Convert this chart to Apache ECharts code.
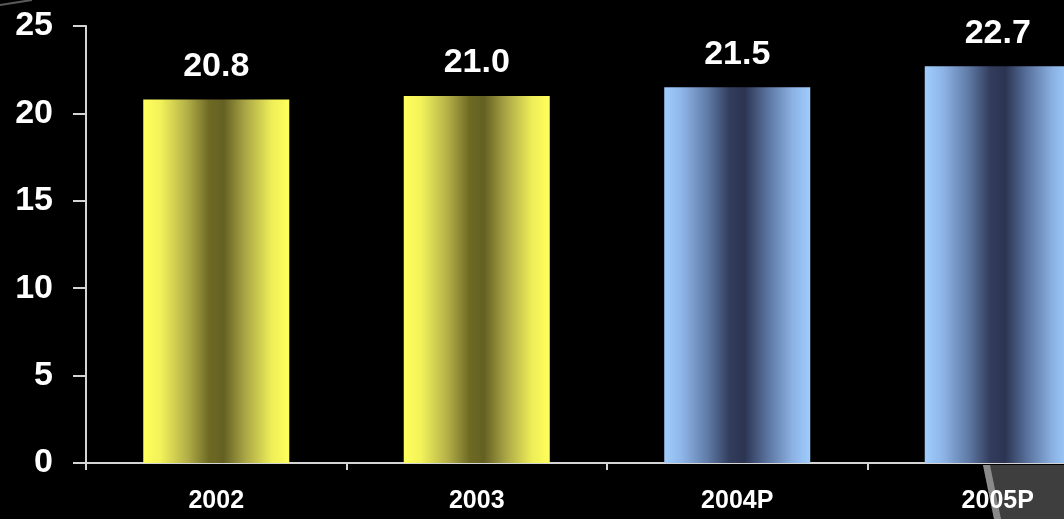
<!DOCTYPE html>
<html>
<head>
<meta charset="utf-8">
<title>Annual values 2002–2005P</title>
<script src="https://cdn.jsdelivr.net/npm/echarts@6/dist/echarts.min.js"></script>
<style>
  html, body { margin: 0; padding: 0; background: #000; }
  #chart { width: 1064px; height: 519px; }
</style>
</head>
<body>
<div id="chart"></div>
<script>
// Years on the category axis (P = projected)
const categories = ['2002', '2003', '2004P', '2005P'];
// Value for each year
const values = [20.8, 21.0, 21.5, 22.7];
// Which years are projections (drawn in blue instead of yellow)
const projected = [false, false, true, true];
// Value axis range
const yMin = 0, yMax = 25, yStep = 5;

const FONT = '"Liberation Sans", Arial, sans-serif';
const AXIS_COLOR = '#d4d4d4';

// Cylinder-like shading: bright edges, dark centre
function shade(stops) {
  return new echarts.graphic.LinearGradient(0, 0, 1, 0, stops.map(([o, c]) => ({ offset: o, color: c })));
}
const yellowFill = shade([
  [0.00, '#ffff5c'], [0.12, '#f2f25a'], [0.30, '#b4b048'],
  [0.45, '#6e6a24'], [0.55, '#646022'], [0.70, '#aaa646'],
  [0.88, '#eeee58'], [1.00, '#ffff5c']
]);
const blueFill = shade([
  [0.00, '#9fcdfd'], [0.12, '#8fb6e8'], [0.30, '#5f7aa6'],
  [0.45, '#323c5c'], [0.55, '#2c3452'], [0.70, '#58719c'],
  [0.88, '#8cb2e4'], [1.00, '#9fcdfd']
]);

const chart = echarts.init(document.getElementById('chart'), null, { renderer: 'canvas' });

chart.setOption({
  backgroundColor: '#000000',
  animation: false,
  // the last category runs past the right edge of the canvas
  grid: { left: 86, top: 26, width: 1042, height: 437, containLabel: false, outerBoundsMode: 'none' },
  xAxis: {
    type: 'category',
    data: categories,
    axisLine: { show: true, lineStyle: { color: AXIS_COLOR, width: 2 } },
    axisTick: { show: true, alignWithLabel: false, length: 7, lineStyle: { color: AXIS_COLOR, width: 2 } },
    axisLabel: { color: '#ffffff', fontFamily: FONT, fontWeight: 'bold', fontSize: 25, margin: 26 },
    splitLine: { show: false }
  },
  yAxis: {
    type: 'value',
    min: yMin, max: yMax, interval: yStep,
    axisLine: { show: true, lineStyle: { color: AXIS_COLOR, width: 2 } },
    axisTick: { show: true, inside: false, length: 13, lineStyle: { color: AXIS_COLOR, width: 2 } },
    axisLabel: { color: '#ffffff', fontFamily: FONT, fontWeight: 'bold', fontSize: 34, margin: 33 },
    splitLine: { show: false }
  },
  series: [{
    type: 'bar',
    barWidth: 146,
    data: values.map((v, i) => ({
      value: v,
      itemStyle: { color: projected[i] ? blueFill : yellowFill }
    })),
    label: {
      show: true,
      position: 'top',
      distance: 16,
      color: '#ffffff',
      fontFamily: FONT,
      fontWeight: 'bold',
      fontSize: 34,
      formatter: p => p.value.toFixed(1)
    }
  }],
  graphic: [
    // grey backdrop fragments peeking in at the corners
    {
      type: 'polygon', z: -1,
      shape: { points: [[983, 465], [1064, 465], [1064, 519], [994, 519]] },
      style: { fill: '#3e3e3e' }
    },
    {
      type: 'polygon', z: -1,
      shape: { points: [[983, 465], [990, 465], [1001, 519], [994, 519]] },
      style: { fill: '#8a8a8a' }
    },
    {
      type: 'line', z: -1,
      shape: { x1: 0, y1: 5, x2: 32, y2: 0 },
      style: { stroke: '#5a5a5a', lineWidth: 2 }
    }
  ]
});
</script>
</body>
</html>
